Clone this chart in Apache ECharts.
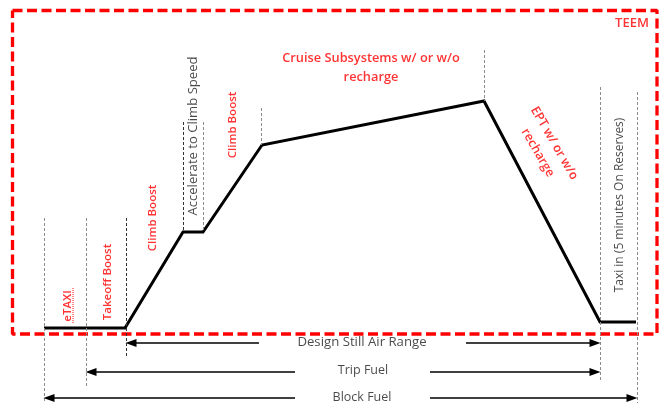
<!DOCTYPE html>
<html><head><meta charset="utf-8">
<script src="https://cdn.jsdelivr.net/npm/echarts@6.0.0/dist/echarts.min.js"></script>
<style>html,body{margin:0;padding:0;background:#fff}#c{width:670px;height:403px}</style>
</head><body><div id="c"></div>
<script>
// Flight profile (x = mission progress, alt = relative altitude)
const profileX   = [44, 125, 183, 203, 262, 484, 600, 636];
const profileAlt = [75, 75, 171, 171, 258, 302, 81, 81];

// Vertical phase guides
const guideX      = [44, 86, 126, 183, 203, 261, 484, 600, 637];
const guideTop    = [185, 185, 185, 281, 281, 295, 353, 316, 311];
const guideBottom = [0, 16, 45, 171, 171, 258, 302, 21, 0];
const guideDark   = [false, false, true, true, false, false, false, false, false];

// TEEM boundary box
const boxX   = [12.5, 657, 657, 12.5, 12.5];
const boxAlt = [392.5, 392.5, 69, 69, 392.5];

// Range arrows: left segment start/end, right segment start/end, altitude
const arrowNames  = ['Design Still Air Range', 'Trip Fuel', 'Block Fuel'];
const arrowLeftA  = [131, 91, 49];
const arrowLeftB  = [259, 295, 295];
const arrowRightA = [466, 430, 430];
const arrowRightB = [595, 595, 632];
const arrowAlt    = [60, 31, 5];

// Annotation labels
const labelTexts = ['eTAXI', 'Takeoff Boost', 'Climb Boost', 'Accelerate to Climb Speed', 'Climb Boost',
  'Cruise Subsystems w/ or w/o\nrecharge', 'EPT w/ or w/o\nrecharge', 'Taxi in (5 minutes On Reserves)', 'TEEM'];
const labelX   = [68, 108, 153, 193, 233, 371, 546, 620, 632];
const labelAlt = [97, 121, 185, 267, 278, 335, 255, 198, 380];
const labelRot = [90, 90, 90, 90, 90, 0, -60, 90, 0];
const labelRed = [true, true, true, false, true, true, true, false, true];
const labelSize = [11.5, 11.5, 11.5, 13.1, 11.5, 12.8, 12.5, 12.0, 13];
const arrowTextX = [362, 363, 362];
const arrowTextAlt = [61, 33, 6];
const arrowTextSize = [13.2, 12.5, 12.5];

// spell-check squiggle under "eTAXI"
const squiggleX = 73;
const squiggleAlt = [80, 115];

const FONT = 'Open Sans';
const RED = '#ff0000';

const chart = echarts.init(document.getElementById('c'), null, {renderer: 'canvas'});

const labelData = labelTexts.map((t, i) => ({
  value: [labelX[i], labelAlt[i]],
  label: {
    show: true, formatter: t, rotate: labelRot[i], position: 'inside',
    color: labelRed[i] ? RED : '#1a1a1a',
    fontWeight: labelRed[i] ? 600 : 'normal',
    fontSize: labelSize[i], fontFamily: FONT,
    align: 'center', verticalAlign: 'middle', lineHeight: 19
  }
})).concat(arrowNames.map((t, i) => ({
  value: [arrowTextX[i], arrowTextAlt[i]],
  label: {show: true, formatter: t, position: 'inside', color: '#1a1a1a', fontSize: arrowTextSize[i],
    fontFamily: FONT, align: 'center', verticalAlign: 'middle'}
})));

const arrowLines = [];
arrowNames.forEach((n, i) => {
  arrowLines.push([{coord: [arrowLeftA[i], arrowAlt[i]], symbol: 'triangle', symbolSize: [8, 11]},
                   {coord: [arrowLeftB[i], arrowAlt[i]], symbol: 'none'}]);
  arrowLines.push([{coord: [arrowRightA[i], arrowAlt[i]], symbol: 'none'},
                   {coord: [arrowRightB[i], arrowAlt[i]], symbol: 'triangle', symbolSize: [8, 11]}]);
});

const guideLines = guideX.map((x, i) => [
  {coord: [x, guideTop[i]], lineStyle: {color: guideDark[i] ? '#333' : '#8c8c8c', width: 1, type: [3, 2]}},
  {coord: [x, guideBottom[i]]}
]);
guideLines.push([
  {coord: [squiggleX, squiggleAlt[0]], lineStyle: {color: '#ff6060', width: 1.5, type: [1, 1]}},
  {coord: [squiggleX, squiggleAlt[1]]}
]);

chart.setOption({
  animation: false,
  grid: {left: 0, right: 0, top: 0, bottom: 0},
  xAxis: {type: 'value', min: 0, max: 670, show: false},
  yAxis: {type: 'value', min: 0, max: 403, show: false},
  series: [
    {
      type: 'line', data: guideX.map((x, i) => [x, guideTop[i]]), symbol: 'none',
      lineStyle: {opacity: 0}, silent: true, z: 1,
      markLine: {silent: true, symbol: 'none', label: {show: false}, animation: false, data: guideLines}
    },
    {
      type: 'line', data: boxX.map((x, i) => [x, boxAlt[i]]), symbol: 'none', silent: true, z: 2,
      lineStyle: {color: RED, width: 3.3, type: [10, 4.5]}
    },
    {
      type: 'line', data: profileX.map((x, i) => [x, profileAlt[i]]), symbol: 'none', z: 3,
      lineStyle: {color: '#000', width: 3, join: 'miter'}
    },
    {
      type: 'line', data: [], symbol: 'none', z: 3,
      markLine: {
        silent: true, label: {show: false}, animation: false,
        lineStyle: {color: '#000', width: 1.5, type: 'solid'},
        itemStyle: {color: '#000'},
        data: arrowLines
      }
    },
    {
      type: 'scatter', data: labelData, symbolSize: 1, itemStyle: {color: 'rgba(0,0,0,0)'}, silent: true, z: 5
    }
  ]
});
</script></body></html>
